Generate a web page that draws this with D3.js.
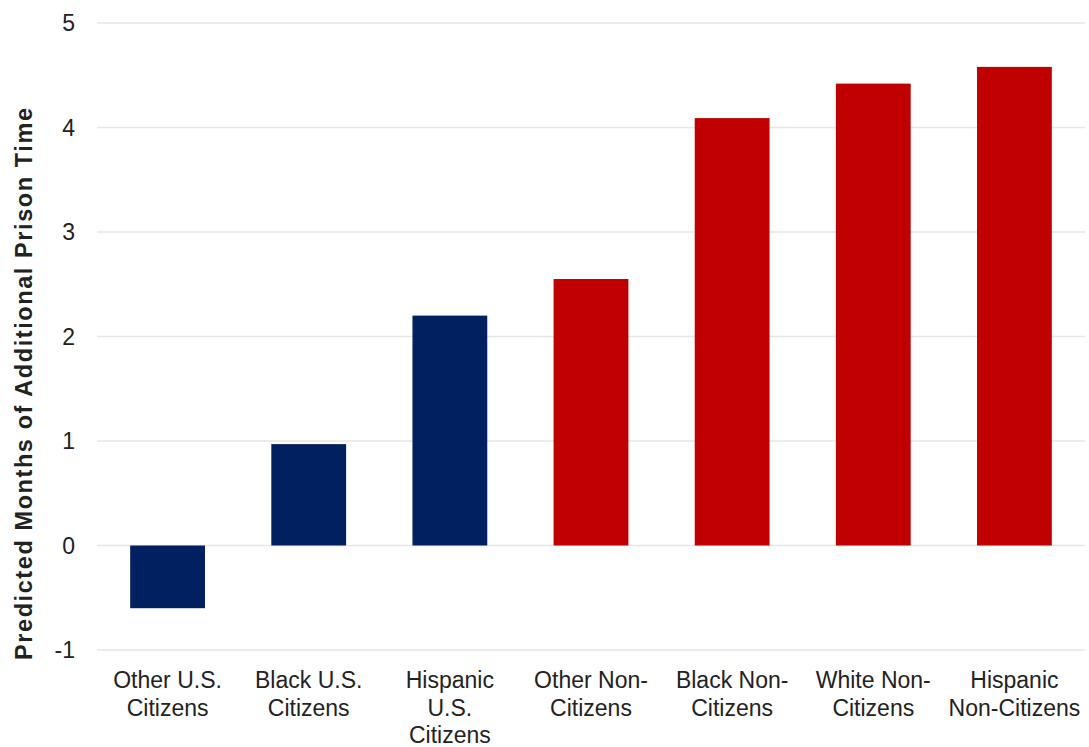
<!DOCTYPE html>
<html>
<head>
<meta charset="utf-8">
<script src="https://cdn.jsdelivr.net/npm/d3@7"></script>
<style>
  body { margin: 0; background: #fff; }
  text { font-family: "Liberation Sans", Arial, sans-serif; fill: #222; }
</style>
</head>
<body>
<div id="chart"></div>
<script>
const categories = ["Other U.S. Citizens", "Black U.S. Citizens", "Hispanic U.S. Citizens",
  "Other Non-Citizens", "Black Non-Citizens", "White Non-Citizens", "Hispanic Non-Citizens"];
const labelLines = [["Other U.S.", "Citizens"], ["Black U.S.", "Citizens"], ["Hispanic", "U.S.", "Citizens"],
  ["Other Non-", "Citizens"], ["Black Non-", "Citizens"], ["White Non-", "Citizens"], ["Hispanic", "Non-Citizens"]];
const values = [-0.6, 0.97, 2.2, 2.55, 4.09, 4.42, 4.58];
const groups = ["citizen", "citizen", "citizen", "non", "non", "non", "non"];
const yTicks = [-1, 0, 1, 2, 3, 4, 5];

const width = 1089;
const height = 747;
const margin = { top: 23, right: 4, bottom: 97, left: 97 };

const svg = d3.select("#chart")
  .append("svg")
  .attr("width", width)
  .attr("height", height);

const x = d3.scaleBand()
  .domain(categories)
  .range([margin.left, width - margin.right])
  .paddingInner(0.47)
  .paddingOuter(0.235);

const y = d3.scaleLinear()
  .domain([-1, 5])
  .range([height - margin.bottom, margin.top]);

const color = d3.scaleOrdinal()
  .domain(["citizen", "non"])
  .range(["#002060", "#c00000"]);

// gridlines
svg.append("g")
  .selectAll("line")
  .data(yTicks)
  .enter().append("line")
  .attr("x1", margin.left)
  .attr("x2", width - margin.right)
  .attr("y1", d => y(d))
  .attr("y2", d => y(d))
  .attr("stroke", "#e6e6e6")
  .attr("stroke-width", 1.5);

// tick labels
svg.append("g")
  .selectAll("text")
  .data(yTicks)
  .enter().append("text")
  .attr("x", 75)
  .attr("y", d => y(d))
  .attr("dy", "0.36em")
  .style("font-size", "23px")
  .style("text-anchor", "end")
  .text(d => d);

// bars
svg.append("g")
  .selectAll("rect")
  .data(values)
  .enter().append("rect")
  .attr("x", (d, i) => x(categories[i]))
  .attr("y", d => y(Math.max(0, d)))
  .attr("width", x.bandwidth())
  .attr("height", d => Math.abs(y(d) - y(0)))
  .attr("fill", (d, i) => color(groups[i]));

// category labels
const labels = svg.append("g")
  .selectAll("text")
  .data(categories)
  .enter().append("text")
  .attr("x", d => x(d) + x.bandwidth() / 2)
  .attr("y", 688)
  .style("font-size", "23px")
  .style("text-anchor", "middle");

labels.selectAll("tspan")
  .data((d, i) => labelLines[i])
  .enter().append("tspan")
  .attr("x", function () { return d3.select(this.parentNode).attr("x"); })
  .attr("dy", (d, i) => i === 0 ? 0 : 27.5)
  .text(d => d);

// y axis title
svg.append("text")
  .attr("transform", "translate(32,384) rotate(-90)")
  .attr("textLength", 552)
  .attr("lengthAdjust", "spacing")
  .style("font-size", "23.5px")
  .style("font-weight", "bold")
  .style("text-anchor", "middle")
  .text("Predicted Months of Additional Prison Time");
</script>
</body>
</html>
